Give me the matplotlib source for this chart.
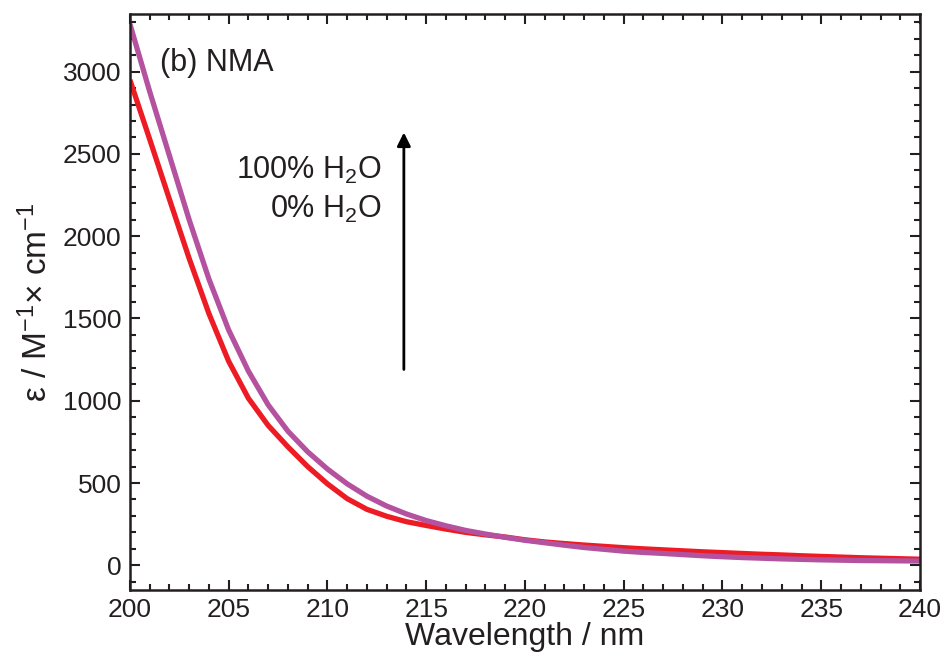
import matplotlib
matplotlib.use("Agg")
import matplotlib.pyplot as plt
from matplotlib.ticker import MultipleLocator

plt.rcParams['font.family'] = ['Liberation Sans', 'DejaVu Sans']
plt.rcParams['mathtext.fontset'] = 'custom'
plt.rcParams['mathtext.rm'] = 'Liberation Sans'
plt.rcParams['mathtext.it'] = 'Liberation Sans:italic'

wavelength = list(range(200, 241))

# 0% H2O (red)
eps_0 = [2950, 2590, 2225, 1865, 1530, 1240, 1015, 850, 720, 600,
         495, 405, 340, 298, 265, 242, 220, 200, 185, 172,
         155, 142, 132, 123, 115, 107, 100, 94, 88, 82,
         77, 72, 67, 63, 58, 54, 50, 46, 43, 40, 37]

# 100% H2O (purple)
eps_100 = [3290, 2880, 2490, 2100, 1740, 1430, 1180, 975, 815, 690,
           585, 495, 420, 360, 312, 272, 240, 212, 190, 170,
           152, 137, 122, 108, 97, 86, 78, 72, 65, 58,
           52, 47, 43, 39, 36, 33, 31, 29, 28, 27, 26]

fig = plt.figure(figsize=(9.48, 6.57), dpi=100)
ax = fig.add_axes([0.137, 0.102, 0.8335, 0.8767])

ax.plot(wavelength, eps_0, color='#ED1C24', lw=3.8, solid_capstyle='butt')
ax.plot(wavelength, eps_100, color='#B452A0', lw=3.8, solid_capstyle='butt')

ax.set_xlim(200, 240)
ax.set_ylim(-150, 3350)
ax.xaxis.set_major_locator(MultipleLocator(5))
ax.xaxis.set_minor_locator(MultipleLocator(1))
ax.yaxis.set_major_locator(MultipleLocator(500))
ax.yaxis.set_minor_locator(MultipleLocator(100))
ax.tick_params(which='both', direction='in', top=True, right=True,
               width=1.5, colors='#231F20', labelsize=19)
ax.tick_params(which='major', length=7, pad=6)
ax.tick_params(which='minor', length=4)
for s in ax.spines.values():
    s.set_linewidth(1.8)
    s.set_color('#231F20')

ax.set_xlabel('Wavelength / nm', fontsize=23, color='#231F20', labelpad=0)
ax.set_ylabel('ε / M$^{-1}$× cm$^{-1}$', fontsize=24, color='#231F20', labelpad=6)

ax.text(201.5, 3050, '(b) NMA', fontsize=22, color='#231F20', va='center', ha='left')
ax.text(212.75, 2400, '100% H$_2$O', fontsize=22, color='#231F20', va='center', ha='right')
ax.text(212.75, 2160, '0% H$_2$O', fontsize=22, color='#231F20', va='center', ha='right')
ax.annotate('', xy=(213.87, 2630), xytext=(213.87, 1190),
            arrowprops=dict(arrowstyle='-|>', color='black', lw=2,
                            mutation_scale=20, shrinkA=0, shrinkB=0))

fig.savefig('out.png', dpi=100)
